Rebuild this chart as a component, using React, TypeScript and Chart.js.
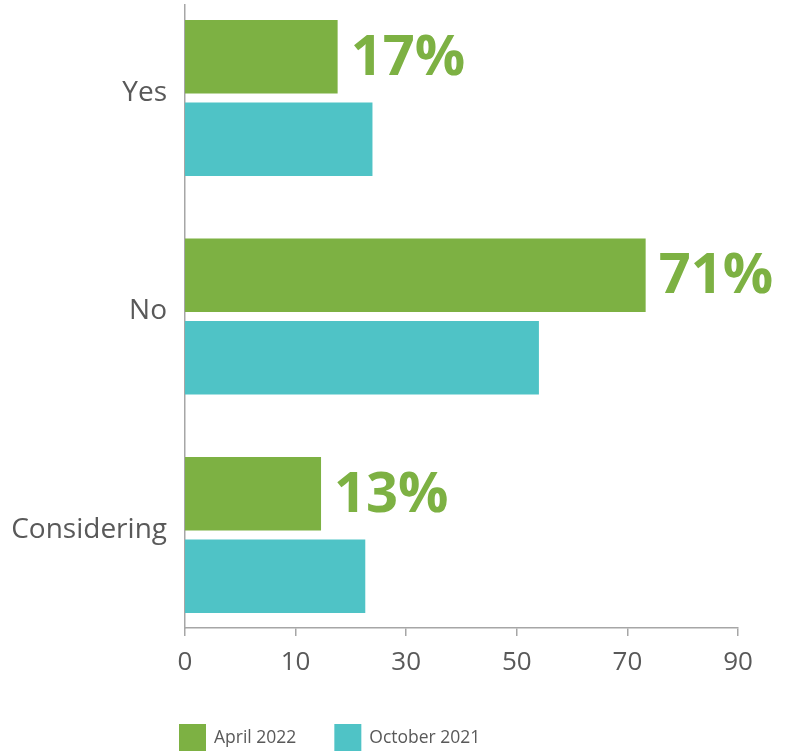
import React, { useEffect, useRef } from 'react';
import { Chart, registerables } from 'chart.js';

Chart.register(...registerables);

const CATEGORIES = ['Yes', 'No', 'Considering'];
const SERIES_NAMES = ['April 2022', 'October 2021'];
const APRIL_2022 = [17.6, 73.3, 14.6];
const OCTOBER_2021 = [23.9, 54.0, 22.6];
const APRIL_LABELS = ['17%', '71%', '13%'];
const X_TICK_VALUES = [-10, 10, 30, 50, 70, 90];
const X_TICK_LABELS = ['0', '10', '30', '50', '70', '90'];
const AXIS_MIN = -10;
const AXIS_MAX = 90;

const GREEN = '#7DB143';
const TEAL = '#4FC3C6';
const TEXT = '#595959';
const AXIS = '#a6a6a6';
const FONT = "'Open Sans', 'Noto Sans', sans-serif";

const valueLabels = {
  id: 'valueLabels',
  afterDatasetsDraw(chart: any) {
    const ctx = chart.ctx;
    const meta = chart.getDatasetMeta(0);
    ctx.save();
    ctx.fillStyle = GREEN;
    ctx.font = `bold 56px ${FONT}`;
    ctx.textAlign = 'left';
    ctx.textBaseline = 'middle';
    meta.data.forEach((el: any, i: number) => {
      ctx.fillText(APRIL_LABELS[i], el.x + 13, el.y + 2);
    });
    ctx.restore();
  },
};

const customLegend = {
  id: 'customLegend',
  afterDraw(chart: any) {
    const ctx = chart.ctx;
    const colors = [GREEN, TEAL];
    let x = chart.chartArea.left - 6;
    const boxTop = chart.height - 27;
    ctx.save();
    ctx.font = `17.5px ${FONT}`;
    ctx.textBaseline = 'middle';
    ctx.textAlign = 'left';
    SERIES_NAMES.forEach((name, i) => {
      ctx.fillStyle = colors[i];
      ctx.fillRect(x, boxTop, 27, 27);
      ctx.fillStyle = TEXT;
      ctx.fillText(name, x + 35, boxTop + 14);
      x += 35 + ctx.measureText(name).width + 38;
    });
    ctx.restore();
  },
};

export default function App() {
  const ref = useRef<HTMLCanvasElement>(null);
  useEffect(() => {
    if (!ref.current) return;
    const chart = new Chart(ref.current, {
      type: 'bar',
      data: {
        datasets: [
          {
            label: SERIES_NAMES[0],
            data: APRIL_2022.map((v, i) => ({ x: [AXIS_MIN, v], y: i })) as any,
            backgroundColor: GREEN,
            borderWidth: 0,
          },
          {
            label: SERIES_NAMES[1],
            data: OCTOBER_2021.map((v, i) => ({ x: [AXIS_MIN, v], y: i })) as any,
            backgroundColor: TEAL,
            borderWidth: 0,
          },
        ],
      },
      options: {
        indexAxis: 'y',
        responsive: false,
        animation: false,
        events: [],
        categoryPercentage: 0.755,
        barPercentage: 0.891,
        layout: { padding: { top: 5, right: 56, bottom: 0, left: 0 } },
        plugins: {
          legend: { display: false },
          tooltip: { enabled: false },
        },
        scales: {
          x: {
            type: 'linear',
            min: AXIS_MIN,
            max: AXIS_MAX,
            afterBuildTicks: (s: any) => {
              s.ticks = X_TICK_VALUES.map((v) => ({ value: v }));
            },
            afterFit: (s: any) => {
              s.height = 123;
            },
            ticks: {
              callback: (_v: any, i: number) => X_TICK_LABELS[i],
              color: TEXT,
              font: { family: FONT, size: 26 },
              padding: 11,
              maxRotation: 0,
              autoSkip: false,
            },
            grid: {
              display: true,
              drawOnChartArea: false,
              drawTicks: true,
              tickLength: 8,
              color: AXIS,
              lineWidth: 1.5,
            },
            border: { display: true, color: AXIS, width: 1.5 },
          },
          y: {
            type: 'linear',
            offset: false,
            reverse: true,
            min: -0.4256,
            max: 2.4256,
            afterBuildTicks: (s: any) => {
              s.ticks = CATEGORIES.map((_c, i) => ({ value: i }));
            },
            afterFit: (s: any) => {
              s.width = 185;
              s.paddingTop = 0;
              s.paddingBottom = 0;
            },
            ticks: {
              callback: (v: any) => CATEGORIES[v as number] ?? '',
              color: TEXT,
              font: { family: FONT, size: 28 },
              padding: 18,
              labelOffset: -5,
              autoSkip: false,
            },
            grid: { display: false, drawTicks: false, offset: false },
            border: { display: true, color: AXIS, width: 1.5 },
          },
        },
      } as any,
      plugins: [valueLabels, customLegend],
    });
    return () => chart.destroy();
  }, []);
  return (
    <div style={{ position: 'absolute', left: 0, top: 0, width: 794, height: 751, background: '#fff' }}>
      <canvas ref={ref} width={794} height={751} style={{ display: 'block' }} />
    </div>
  );
}
